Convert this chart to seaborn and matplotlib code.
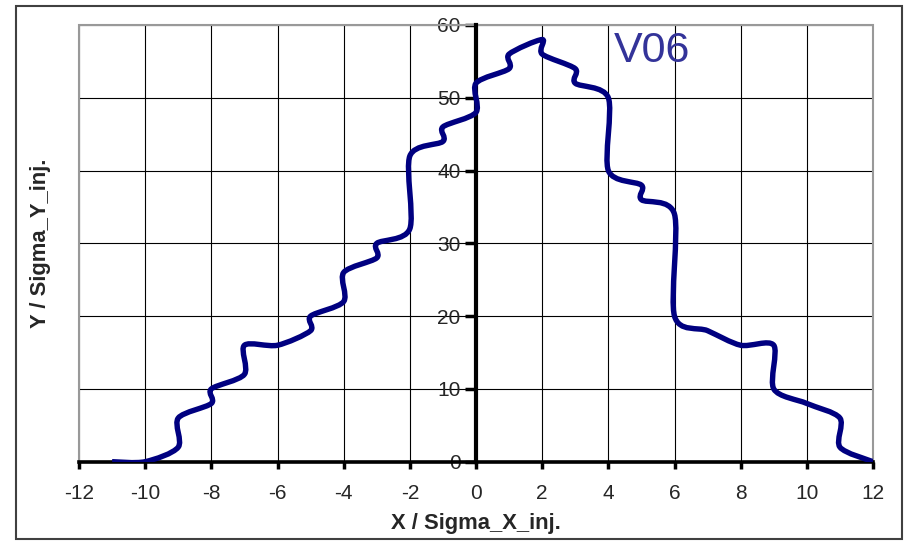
import numpy as np
import pandas as pd
import matplotlib
matplotlib.use("Agg")
import matplotlib.pyplot as plt
from matplotlib.path import Path
from matplotlib.patches import PathPatch, Rectangle
import seaborn as sns

# ---- data ----
x_vals = [-11, -10, -9, -9, -8, -8, -7, -7, -6, -5, -5, -4, -4, -3, -3, -2, -2, -1, -1, 0, 0,
          1, 1, 2, 2, 3, 3, 4, 4, 5, 5, 6, 6, 7, 8, 9, 9, 10, 11, 11, 12]
y_vals = [0, 0, 2, 6, 8, 10, 12, 16, 16, 18, 20, 22, 26, 28, 30, 32, 42, 44, 46, 48, 52,
          54, 56, 58, 56, 54, 52, 50, 40, 38, 36, 34, 20, 18, 16, 16, 10, 8, 6, 2, 0]
x_ticks = list(range(-12, 13, 2))
y_ticks = list(range(0, 61, 10))
series_label = "V06"
x_title = "X / Sigma_X_inj."
y_title = "Y / Sigma_Y_inj."

NAVY = "#000080"

sns.set_style("white")
plt.rcParams["font.family"] = ["Liberation Sans", "DejaVu Sans"]
plt.rcParams["axes.unicode_minus"] = False

fig = plt.figure(figsize=(9.13, 5.41), dpi=100)
fig.patch.set_facecolor("white")
ax = fig.add_axes([79 / 913, 1 - 461.7 / 541, (873 - 79) / 913, (461.7 - 25) / 541])

df = pd.DataFrame({"x": x_vals, "y": y_vals})
# seaborn registers the series on the axes; the visible stroke is the smoothed path below
sns.lineplot(data=df, x="x", y="y", sort=False, estimator=None, color=NAVY,
             lw=0, ax=ax, zorder=4)


def smooth_path(xs, ys, k=1 / 7.0):
    pts = np.column_stack([xs, ys]).astype(float)
    n = len(pts)
    verts = [pts[0]]
    codes = [Path.MOVETO]
    for i in range(n - 1):
        p0 = pts[max(i - 1, 0)]
        p1 = pts[i]
        p2 = pts[i + 1]
        p3 = pts[min(i + 2, n - 1)]
        c1 = p1 + (p2 - p0) * k
        c2 = p2 - (p3 - p1) * k
        verts += [c1, c2, p2]
        codes += [Path.CURVE4] * 3
    return Path(np.array(verts), codes)


ax.add_patch(PathPatch(smooth_path(x_vals, y_vals), facecolor="none", edgecolor=NAVY,
                       lw=3.9, capstyle="butt", joinstyle="round", zorder=5))

ax.set_xlim(-12, 12)
ax.set_ylim(0, 60)
ax.set_xticks(x_ticks)
ax.set_yticks(y_ticks)
ax.set_axisbelow(True)
ax.grid(True, color="black", lw=0.8)

ax.spines["top"].set_visible(False)
ax.spines["right"].set_visible(False)
ax.spines["left"].set_position(("data", 0))
ax.spines["left"].set_color("black")
ax.spines["left"].set_linewidth(3)
ax.spines["left"].set_zorder(3)
ax.spines["bottom"].set_color("black")
ax.spines["bottom"].set_linewidth(2.6)
ax.spines["bottom"].set_zorder(3)

ax.add_patch(Rectangle((0, 0), 1, 1, transform=ax.transAxes, fill=False,
                       ec="#999999", lw=1.5, zorder=2.4, clip_on=False))

ax.tick_params(axis="x", direction="out", length=5, width=2.5, color="black",
               labelsize=15, pad=11, bottom=True)
ax.tick_params(axis="y", direction="out", length=8, width=2.5, color="black",
               labelsize=15, pad=3, left=True)

ax.set_xlabel(x_title, fontsize=15.8, fontweight="bold", va="center")
ax.xaxis.set_label_coords(0.5, -0.142)
ax.set_ylabel(y_title, fontsize=15.8, fontweight="bold", va="center")
ax.yaxis.set_label_coords(-0.049, 0.5)

ax.text(4.17, 54.9, series_label, fontsize=31, color="#333399", ha="left",
        va="baseline", zorder=6)

fig.add_artist(Rectangle((16 / 913, 1 - 539 / 541), (902 - 16) / 913, (539 - 6) / 541,
                         transform=fig.transFigure, fill=False, ec="#404040", lw=1.5))

fig.savefig("out.png", dpi=100, facecolor="white")
